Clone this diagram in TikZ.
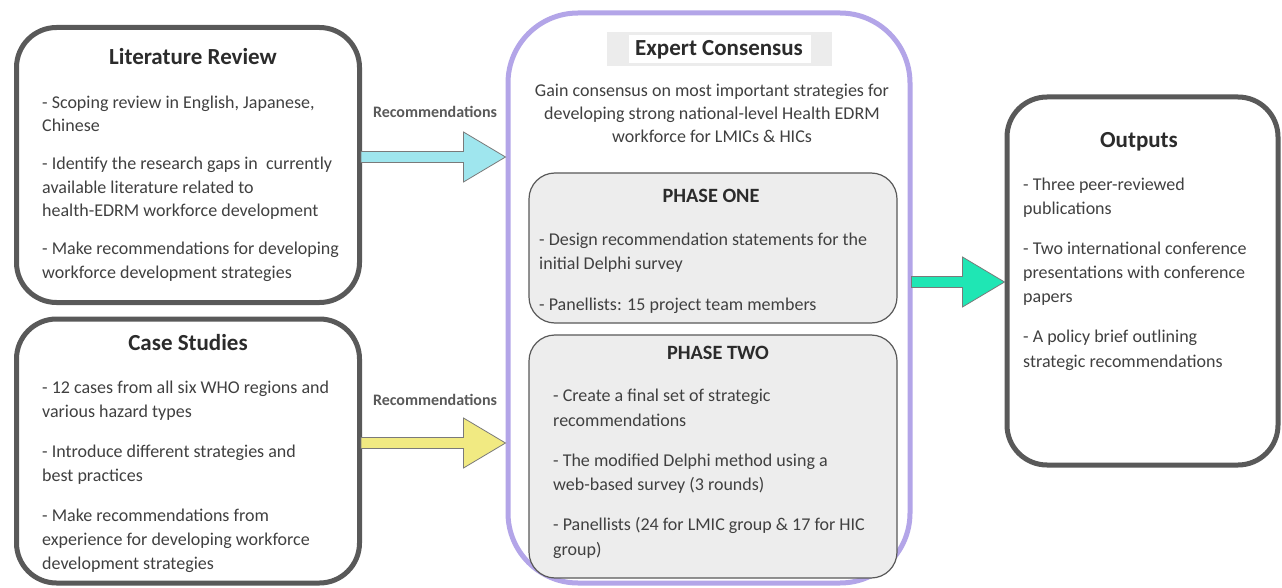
\documentclass[tikz,border=0pt]{standalone}
\usepackage{fontspec}
\setmainfont{Carlito}
\usetikzlibrary{calc}
\definecolor{boxline}{HTML}{595959}
\definecolor{purpleline}{HTML}{B3A5E8}
\definecolor{phasefill}{HTML}{EDEDED}
\definecolor{bodytext}{HTML}{404040}
\definecolor{headtext}{HTML}{2B2B2B}
\definecolor{cyanfill}{HTML}{9FE6EE}
\definecolor{yellowfill}{HTML}{F1EA82}
\definecolor{greenfill}{HTML}{1FE6B4}
\definecolor{arrowline}{HTML}{7A7A7A}
\definecolor{hdrgray}{HTML}{ECECEC}
\newcommand\blockarrow[3]{%
  \path let \p1=(#1), \p2=(#2) in
    [draw=arrowline, line width=0.8pt, fill=#3, line join=miter]
    (\x1,\y1+5.5pt) -- (\x2-42pt,\y1+5.5pt) -- (\x2-42pt,\y1+25pt) -- (\x2,\y1)
    -- (\x2-42pt,\y1-25pt) -- (\x2-42pt,\y1-5.5pt) -- (\x1,\y1-5.5pt) -- cycle;}
\begin{document}
\begin{tikzpicture}[x=1pt,y=-1pt,
  mainbox/.style={draw=boxline, line width=5pt, rounded corners=40pt, fill=white, inner sep=0pt},
  phasebox/.style={draw=boxline, line width=1.2pt, rounded corners=26pt, fill=phasefill, inner sep=0pt},
  body/.style={anchor=base west, inner sep=0pt, align=left, text=bodytext},
  heading/.style={anchor=base, inner sep=0pt, text=headtext, font=\fontsize{23}{26}\selectfont\bfseries},
  phasehead/.style={anchor=base, inner sep=0pt, text=headtext, font=\fontsize{20.3}{24}\selectfont\bfseries},
  reclabel/.style={anchor=base, inner sep=0pt, text=boxline, font=\fontsize{16}{18}\selectfont\bfseries}]
\useasboundingbox (0,0) rectangle (1282,588);
\fill[white] (0,0) rectangle (1282,588);

% main boxes
\node[mainbox, minimum width=343pt, minimum height=275pt] (lit) at (188,165) {};
\node[mainbox, minimum width=343pt, minimum height=264pt] (case) at (188,451) {};
\node[draw=purpleline, line width=5pt, rounded corners=70pt, fill=white, inner sep=0pt,
      minimum width=402pt, minimum height=570pt] (cons) at (709,298) {};
\node[mainbox, minimum width=271pt, minimum height=368pt] (out) at (1142.5,281) {};

% phase boxes
\node[phasebox, minimum width=368pt, minimum height=150pt] (ph1) at (713,248) {};
\node[phasebox, minimum width=368pt, minimum height=243pt] (ph2) at (713,456.5) {};

% expert consensus header
\node[fill=hdrgray, minimum width=225pt, minimum height=34pt, inner sep=0pt] (hdr) at (719.5,49) {};
\node[fill=white, minimum width=182pt, minimum height=28pt, inner sep=0pt] (hdrin) at (720,49) {};
\node[heading] (hdrtext) at (719,56) {Expert Consensus};

% headings
\node[heading] (lithead) at (193,65) {Literature Review};
\node[heading] (casehead) at (188,350) {Case Studies};
\node[heading] (outhead) at (1139,148) {Outputs};
\node[phasehead] (ph1head) at (711,203) {PHASE ONE};
\node[phasehead] (ph2head) at (718,359) {PHASE TWO};

% body texts (anchored at the baseline of the last line)
\node[body, font=\fontsize{18}{23.3}\selectfont] (littext) at (42,278) {- Scoping review in English, Japanese,\\Chinese\\[15pt]
- Identify the research gaps in \ currently\\available literature related to\\health-EDRM workforce development\\[15pt]
- Make recommendations for developing\\workforce development strategies};
\node[body, font=\fontsize{18}{24}\selectfont] (casetext) at (42,569) {- 12 cases from all six WHO regions and\\various hazard types\\[16pt]
- Introduce different strategies and\\best practices\\[16pt]
- Make recommendations from\\experience for developing workforce\\development strategies};
\node[body, align=center, anchor=base, font=\fontsize{18}{23}\selectfont] (constext) at (712,143) {Gain consensus on most important strategies for\\developing strong national-level Health EDRM\\workforce for LMICs \& HICs};
\node[body, font=\fontsize{18}{24}\selectfont] (ph1text) at (539,310) {- Design recommendation statements for the\\initial Delphi survey\\[17pt]
- Panellists: 15 project team members};
\node[body, font=\fontsize{18}{24.5}\selectfont] (ph2text) at (553,555) {- Create a final set of strategic\\recommendations\\[15.5pt]
- The modified Delphi method using a\\web-based survey (3 rounds)\\[15.5pt]
- Panellists (24 for LMIC group \& 17 for HIC\\group)};
\node[body, font=\fontsize{18}{24.3}\selectfont] (outtext) at (1023,367) {- Three peer-reviewed\\publications\\[15.5pt]
- Two international conference\\presentations with conference\\papers\\[15.5pt]
- A policy brief outlining\\strategic recommendations};

% arrows
\coordinate (r1) at (0,157);
\coordinate (r2) at (0,443);
\coordinate (r3) at (0,282);
\blockarrow{$(lit.east |- r1)+(-1,0)$}{cons.west |- r1}{cyanfill}
\blockarrow{$(case.east |- r2)+(-1,0)$}{cons.west |- r2}{yellowfill}
\blockarrow{$(cons.east |- r3)+(-1,0)$}{out.west |- r3}{greenfill}

\node[reclabel] (rec1) at (435,118) {Recommendations};
\node[reclabel] (rec2) at (435,405) {Recommendations};
\end{tikzpicture}
\end{document}
